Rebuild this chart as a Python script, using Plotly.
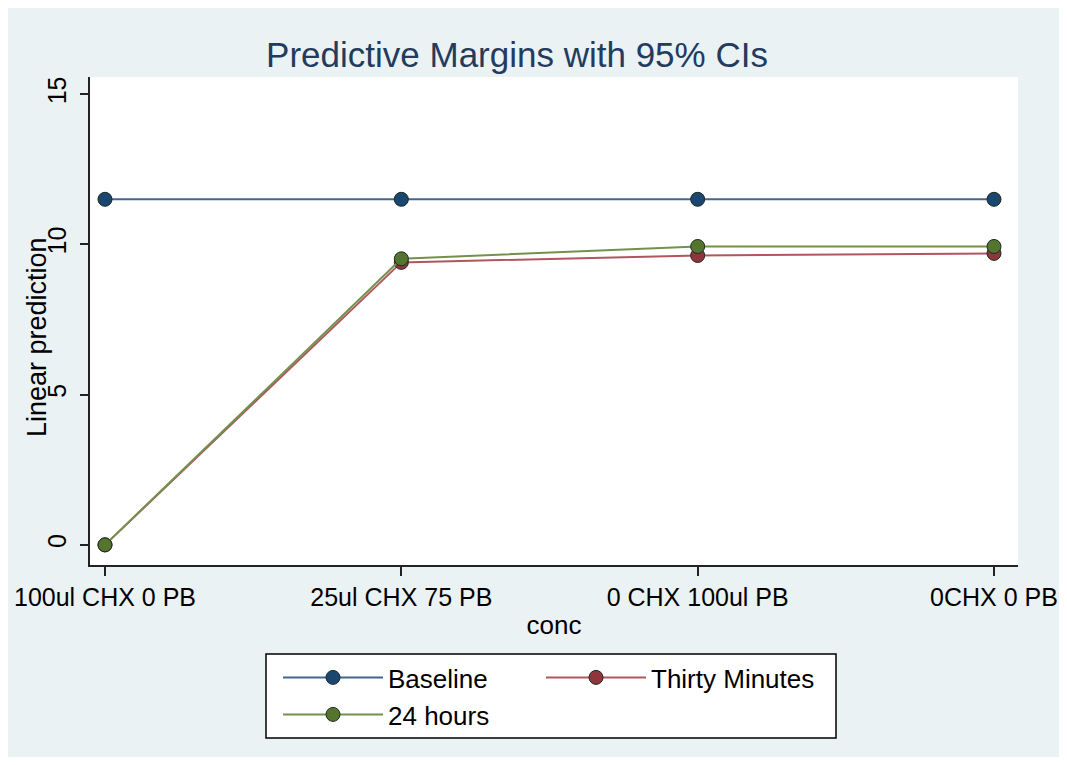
import plotly.graph_objects as go

categories = ["100ul CHX 0 PB", "25ul CHX 75 PB", "0 CHX 100ul PB", "0CHX 0 PB"]
baseline = [11.5, 11.5, 11.5, 11.5]
thirty_minutes = [0.0, 9.4, 9.63, 9.7]
hours_24 = [0.0, 9.52, 9.93, 9.93]
y_ticks = [0, 5, 10, 15]

series = [
    ("Baseline", baseline, "#1a476f", "#41678f", "legend"),
    ("Thirty Minutes", thirty_minutes, "#90353b", "#b0565e", "legend2"),
    ("24 hours", hours_24, "#55752f", "#74904e", "legend3"),
]

FONT = "Liberation Sans, Arial, sans-serif"
x_idx = list(range(len(categories)))

# The page body has an 8px default margin; the figure sits inside it.
OFF = 8
FW, FH = 1067 - OFF, 765 - 2 * OFF

# plot area in page pixels
L, R, T, B = 90 - OFF, 1018 - OFF, 77 - OFF, 565 - OFF

def cx(px):
    return (px - OFF) / FW

def cy(py):
    return 1 - (py - OFF) / FH

def paper_x(px):
    return (px - OFF - L) / (R - L)

def paper_y(py):
    return (B - (py - OFF)) / (B - T)

fig = go.Figure()
for name, vals, mcol, lcol, leg in series:
    fig.add_trace(go.Scatter(
        x=x_idx, y=vals, name=name, mode="lines+markers", legend=leg,
        line=dict(color=lcol, width=2),
        marker=dict(color=mcol, size=14, line=dict(color="#1c2a22", width=1)),
    ))

shapes = [
    # legend box
    dict(type="rect", xref="paper", yref="paper", layer="below",
         x0=paper_x(266), x1=paper_x(836), y0=paper_y(738), y1=paper_y(654),
         fillcolor="white", line=dict(color="black", width=1.5)),
]

legend_common = dict(orientation="h", xanchor="left", yanchor="top",
                     xref="container", yref="container",
                     bgcolor="rgba(0,0,0,0)", borderwidth=0,
                     font=dict(size=26, family=FONT), itemwidth=100,
                     traceorder="normal")

fig.update_layout(
    width=FW, height=FH,
    margin=dict(l=L, r=FW - R, t=T, b=FH - B, autoexpand=False),
    paper_bgcolor="#eaf2f3", plot_bgcolor="white",
    font=dict(family=FONT, color="black"),
    shapes=shapes,
    title=dict(text="Predictive Margins with 95% CIs", x=cx(517), xref="container",
               xanchor="center", y=cy(55), yref="container", yanchor="middle",
               font=dict(size=35, color="#243b5e", family=FONT)),
    xaxis=dict(
        range=[-0.0506, 3.081], tickmode="array", tickvals=x_idx, ticktext=categories,
        showgrid=False, zeroline=False, showline=True, linecolor="#222222", linewidth=1.5,
        ticks="outside", ticklen=9, tickcolor="#222222", tickwidth=1.5,
        ticklabeloverflow="allow",
        tickfont=dict(size=25), title=dict(text="conc", font=dict(size=26), standoff=6),
    ),
    yaxis=dict(
        range=[-0.67, 15.57], tickmode="array", tickvals=y_ticks,
        showgrid=False, zeroline=False, showline=True, linecolor="#222222", linewidth=1.5,
        ticks="outside", ticklen=8, tickcolor="#222222", tickwidth=1.5,
        tickangle=-90, tickfont=dict(size=25), ticklabelstandoff=4,
        ticklabeloverflow="allow",
    ),
    annotations=[dict(text="Linear prediction", textangle=-90, xref="paper", yref="paper",
                      x=paper_x(37), y=paper_y(337), xanchor="center", yanchor="middle",
                      showarrow=False, font=dict(size=27))],
    showlegend=True,
    legend=dict(x=cx(278), y=cy(654), **legend_common),
    legend2=dict(x=cx(541), y=cy(654), **legend_common),
    legend3=dict(x=cx(278), y=cy(691), **legend_common),
)

fig.write_html("out.html")
